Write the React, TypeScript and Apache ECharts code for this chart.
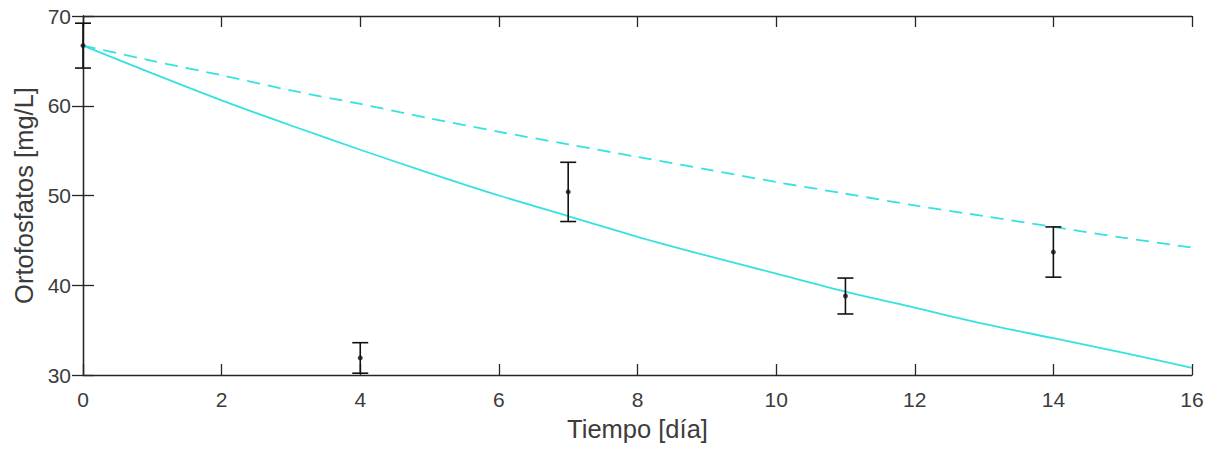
import React, { useEffect, useRef } from "react";
import * as echarts from "echarts";

const xTicks = [0, 2, 4, 6, 8, 10, 12, 14, 16];
const yTicks = [30, 40, 50, 60, 70];

// Measured data (day, mean, half error)
const measDays = [0, 4, 7, 11, 14];
const measMean = [66.7, 31.9, 50.4, 38.8, 43.7];
const measErr = [2.5, 1.7, 3.3, 2.0, 2.8];

// Model curves at integer days
const curveDays = [0, 1, 2, 3, 4, 5, 6, 7, 8, 9, 10, 11, 12, 13, 14, 15, 16];
const solidCurve = [66.7, 63.6, 60.6, 57.8, 55.1, 52.5, 50.0, 47.7, 45.4, 43.3, 41.3, 39.3, 37.5, 35.7, 34.1, 32.5, 30.8];
const dashedCurve = [66.7, 65.0, 63.4, 61.7, 60.2, 58.6, 57.1, 55.7, 54.3, 52.9, 51.5, 50.2, 48.9, 47.7, 46.5, 45.3, 44.2];

const FONT = "'Liberation Sans', Arial, Helvetica, sans-serif";
const TEXT = "#3c3c3c";
const AXIS = "#262626";
const CYAN = "#35e2e0";

export default function App() {
  const ref = useRef<HTMLDivElement>(null);
  useEffect(() => {
    if (!ref.current) return;
    const chart = echarts.init(ref.current, null, { renderer: "svg" });
    const axisLine = { show: true, lineStyle: { color: AXIS, width: 1.3 } };
    const tick = (len: number) => ({ show: true, inside: true, length: len, lineStyle: { color: AXIS, width: 1.3 } });
    const errData = measDays.map((d, i) => [d, measMean[i] - measErr[i], measMean[i] + measErr[i]]);
    chart.setOption({
      animation: false,
      backgroundColor: "#ffffff",
      grid: { left: 83, right: 22, top: 16, bottom: 78, containLabel: false },
      xAxis: [
        {
          type: "value",
          min: 0,
          max: 16,
          interval: 2,
          position: "bottom",
          name: "Tiempo [día]",
          nameLocation: "middle",
          nameGap: 41,
          nameTextStyle: { color: TEXT, fontSize: 25.5, fontFamily: FONT },
          axisLine,
          axisTick: tick(11),
          axisLabel: { color: TEXT, fontSize: 21, fontFamily: FONT, margin: 14 },
          splitLine: { show: false },
        },
        {
          type: "value",
          min: 0,
          max: 16,
          interval: 2,
          position: "top",
          axisLine,
          axisTick: tick(11),
          axisLabel: { show: false },
          splitLine: { show: false },
        },
      ],
      yAxis: [
        {
          type: "value",
          min: 30,
          max: 70,
          interval: 10,
          position: "left",
          name: "Ortofosfatos [mg/L]",
          nameLocation: "middle",
          nameGap: 45,
          nameTextStyle: { color: TEXT, fontSize: 25.5, fontFamily: FONT },
          axisLine,
          axisTick: tick(11),
          axisLabel: { color: TEXT, fontSize: 21, fontFamily: FONT, margin: 12 },
          splitLine: { show: false },
        },
        {
          type: "value",
          min: 30,
          max: 70,
          interval: 10,
          position: "right",
          axisLine,
          axisTick: tick(11),
          axisLabel: { show: false },
          splitLine: { show: false },
        },
      ],
      series: [
        {
          type: "line",
          data: curveDays.map((d, i) => [d, solidCurve[i]]),
          showSymbol: false,
          smooth: 0.3,
          lineStyle: { color: CYAN, width: 1.8 },
          z: 2,
        },
        {
          type: "line",
          data: curveDays.map((d, i) => [d, dashedCurve[i]]),
          showSymbol: false,
          smooth: 0.3,
          lineStyle: { color: CYAN, width: 1.8, type: [13, 8] },
          z: 2,
        },
        {
          type: "custom",
          data: errData,
          clip: false,
          z: 3,
          renderItem: (params: any, api: any) => {
            const x = api.value(0);
            const lo = api.coord([x, api.value(1)]);
            const hi = api.coord([x, api.value(2)]);
            const w = 8;
            const st = { stroke: "#111", lineWidth: 1.6 };
            return {
              type: "group",
              children: [
                { type: "line", shape: { x1: lo[0], y1: lo[1], x2: hi[0], y2: hi[1] }, style: st },
                { type: "line", shape: { x1: lo[0] - w, y1: lo[1], x2: lo[0] + w, y2: lo[1] }, style: st },
                { type: "line", shape: { x1: hi[0] - w, y1: hi[1], x2: hi[0] + w, y2: hi[1] }, style: st },
              ],
            };
          },
        },
        {
          type: "scatter",
          data: measDays.map((d, i) => [d, measMean[i]]),
          symbol: "circle",
          symbolSize: 5,
          itemStyle: { color: "#111" },
          z: 4,
        },
      ],
    });
    return () => chart.dispose();
  }, []);
  return (
    <div
      ref={ref}
      style={{ position: "fixed", left: 0, top: 0, width: 1214, height: 453, background: "#fff" }}
    />
  );
}
